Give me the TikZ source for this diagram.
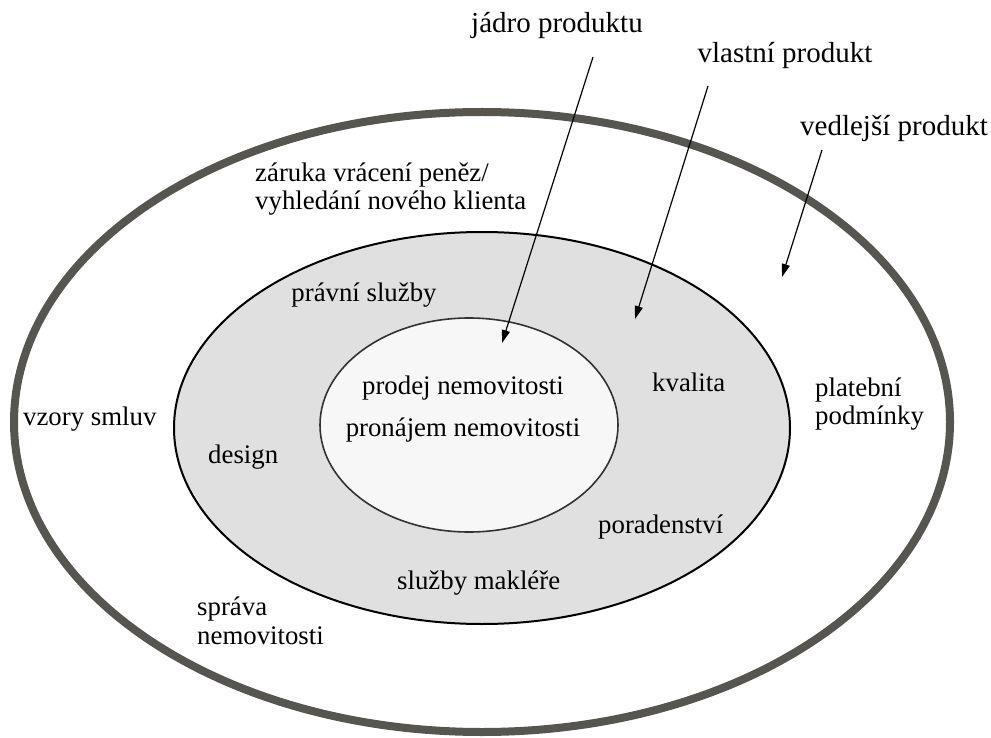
\documentclass[tikz,border=0pt]{standalone}
\usepackage{fontspec}
\setmainfont{Liberation Serif}
\usetikzlibrary{arrows.meta}
\definecolor{outerc}{RGB}{87,85,80}
\definecolor{midfill}{RGB}{224,224,224}
\definecolor{innfill}{RGB}{247,247,247}
\definecolor{innline}{RGB}{50,50,50}
\tikzset{
  txt/.style={inner sep=0pt, font=\fontsize{26.8}{28.5}\selectfont, align=left},
  lbl/.style={inner sep=0pt, font=\fontsize{29}{31}\selectfont},
  pointer/.style={line width=1.2pt, -{Triangle[length=13pt,width=8pt]}}
}
\begin{document}
\begin{tikzpicture}[x=1pt,y=-1pt]
\useasboundingbox (0,0) rectangle (991,738);
% ellipses
\draw[outerc, line width=8pt] (482,422) ellipse [x radius=468pt, y radius=310pt];
\draw[black, line width=2pt, fill=midfill] (482,428) ellipse [x radius=308pt, y radius=196pt];
\draw[innline, line width=1.6pt, fill=innfill] (469,425) ellipse [x radius=149pt, y radius=107pt];
% labels
\node[lbl] (jadro) at (557,26) {jádro produktu};
\node[lbl] (vlastni) at (785,56) {vlastní produkt};
\node[lbl] (vedl) at (894,128) {vedlejší produkt};
% texts
\node[txt, anchor=west] (zaruka) at (255,189) {záruka vrácení peněz/\\vyhledání nového klienta};
\node[txt] (pravni) at (364,295) {právní služby};
\node[txt] (prodej) at (463,388) {prodej nemovitosti};
\node[txt] (pronajem) at (463,430) {pronájem nemovitosti};
\node[txt, anchor=west] (vzory) at (23,419) {vzory smluv};
\node[txt, anchor=west] (design) at (208,457) {design};
\node[txt, anchor=west] (kvalita) at (652,382) {kvalita};
\node[txt, anchor=west] (platebni) at (815,404) {platební\\podmínky};
\node[txt, anchor=west] (poraden) at (598,527) {poradenství};
\node[txt, anchor=west] (sluzby) at (397,583) {služby makléře};
\node[txt, anchor=west] (sprava) at (197,621) {správa\\nemovitosti};
% arrows
\coordinate (a1s) at (593,57);
\coordinate (a1e) at (502,343);
\coordinate (a2s) at (708,86);
\coordinate (a2e) at (635,319);
\coordinate (a3s) at (822,150);
\coordinate (a3e) at (782,277);
\draw[pointer] (a1s) -- (a1e);
\draw[pointer] (a2s) -- (a2e);
\draw[pointer] (a3s) -- (a3e);
\end{tikzpicture}
\end{document}
